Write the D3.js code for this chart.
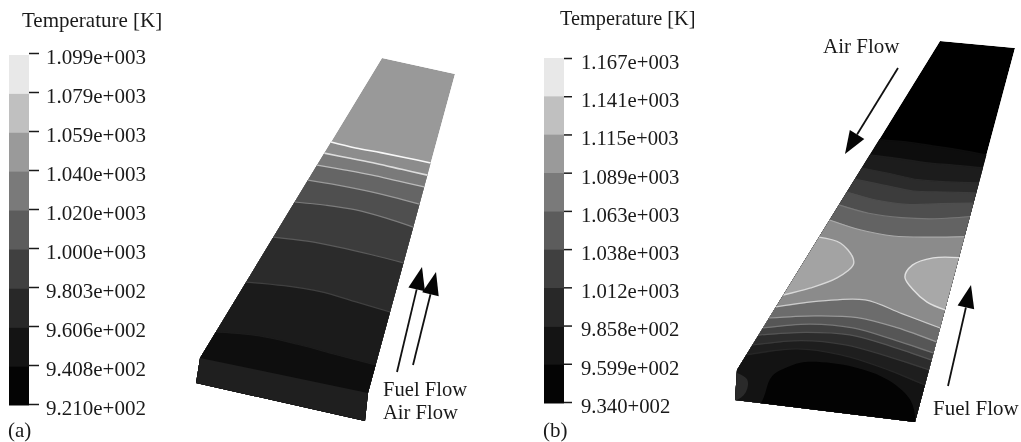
<!DOCTYPE html>
<html lang="en">
<head>
    <meta charset="UTF-8">
    <title>Temperature contours</title>
    <script src="https://cdnjs.cloudflare.com/ajax/libs/d3/7.8.5/d3.min.js"></script>
    <style>
        html, body { margin: 0; padding: 0; background: #fff; }
        svg { display: block; filter: blur(0.4px); }
        text { font-family: "Liberation Serif", serif; fill: #1a1a1a; }
    </style>
</head>
<body>
    <script>
        // Legend tick labels (the last b label really has no "e")
        var ticksA = ["1.099e+003","1.079e+003","1.059e+003","1.040e+003","1.020e+003","1.000e+003","9.803e+002","9.606e+002","9.408e+002","9.210e+002"];
        var ticksB = ["1.167e+003","1.141e+003","1.115e+003","1.089e+003","1.063e+003","1.038e+003","1.012e+003","9.858e+002","9.599e+002","9.340+002"];
        var legendShades = ["#e8e8e8","#c0c0c0","#9a9a9a","#7a7a7a","#5c5c5c","#404040","#282828","#141414","#040404"];

        // Stations across the plate width (0 = left edge, 1 = right edge)
        var across = [0, 0.25, 0.5, 0.75, 1];

        // Contours: fraction of plate length from the top end, one value per station
        var contoursA = [
            [0.280,0.282,0.280,0.279,0.279],
            [0.317,0.316,0.315,0.316,0.317],
            [0.357,0.354,0.352,0.353,0.354],
            [0.407,0.403,0.402,0.404,0.408],
            [0.480,0.470,0.465,0.470,0.480],
            [0.597,0.588,0.586,0.588,0.592],
            [0.747,0.734,0.729,0.737,0.746],
            [0.913,0.898,0.899,0.906,0.912]
        ];
        var contoursB = [
            [0.300,0.300,0.305,0.310,0.318],
            [0.347,0.350,0.355,0.355,0.356],
            [0.386,0.395,0.406,0.405,0.400],
            [0.420,0.430,0.440,0.435,0.430],
            [0.459,0.475,0.480,0.470,0.460],
            [0.498,0.515,0.520,0.515,0.500],
            [0.544,0.565,0.575,0.570,0.560],
            [0.808,0.780,0.767,0.798,0.831],
            [0.842,0.825,0.820,0.840,0.872],
            [0.872,0.850,0.851,0.875,0.905],
            [0.894,0.875,0.872,0.895,0.926],
            [0.924,0.900,0.902,0.925,0.955],
            [0.954,0.925,0.932,0.960,1.000]
        ];

        // Closed regions on plate b as [across, along]
        var hotLeftB = [[0,0.596],[0.165,0.608],[0.296,0.646],[0.325,0.668],[0.265,0.71],[0.133,0.746],[0,0.772]];
        var hotRightB = [[1,0.622],[0.827,0.629],[0.707,0.655],[0.687,0.691],[0.77,0.727],[0.878,0.759],[1,0.777]];
        var coldDomeB = [[0.2,1.2],[0.213,1.08],[0.195,1.012],[0.253,0.979],[0.33,0.961],[0.593,0.964],[0.8,0.994],[0.946,1.047],[1,1.11],[1,1.2]];
        var warmCornerB = [[-0.05,1],[0.08,1.025],[0.11,1.064],[0.08,1.09],[-0.05,1.09]];

        var width = 1021, height = 442;
        var svg = d3.select("body").append("svg").attr("width", width).attr("height", height);

        // Shades and line colours for the contour bands, top of plate first
        var bandsA = ["#999999","#8c8c8c","#7a7a7a","#656565","#4f4f4f","#3c3c3c","#2b2b2b","#1b1b1b","#0e0e0e"];
        var linesA = ["#f8f8f8","#dddddd","#bbbbbb","#999999","#7c7c7c","#5a5a5a","#404040","#1c1c1c"];
        var bandsB = ["#000000","#0d0d0d","#1c1c1c","#2b2b2b","#3c3c3c","#4e4e4e","#636363","#8b8b8b","#6c6c6c","#565656","#404040","#2c2c2c","#1e1e1e","#131313"];
        var linesB = ["#0d0d0d","#1c1c1c","#2b2b2b","#3c3c3c","#4e4e4e","#777777","#aaaaaa","#cccccc","#999999","#777777","#555555","#3a3a3a","#262626"];

        function drawLegend(x, top, bottom, tickTop, tickSize, pad, labels, fontSize) {
            var band = d3.scaleBand().domain(legendShades).range([top, bottom]);
            svg.append("g").selectAll("rect").data(legendShades).enter().append("rect")
                .attr("x", x - 20)
                .attr("width", 20)
                .attr("y", function(d){ return band(d); })
                .attr("height", band.bandwidth() + 0.5)
                .attr("fill", function(d){ return d; });
            var scale = d3.scalePoint().domain(labels).range([tickTop, bottom - 1]);
            var axis = svg.append("g").attr("transform", "translate(" + x + ",0)")
                .call(d3.axisRight(scale).tickSize(tickSize).tickPadding(pad));
            axis.select(".domain").remove();
            axis.selectAll("line").attr("stroke", "#1a1a1a").attr("stroke-width", 1.5);
            axis.selectAll("text")
                .attr("dy", "0.5em")
                .style("font-family", '"Liberation Serif", serif')
                .style("font-size", fontSize + "px")
                .attr("fill", "#1a1a1a");
        }

        // Maps [across, along] on the top face of a plate to the page
        function plateProjection(c) {
            var leftEdge = d3.scaleLinear().domain([0,1]).range([c.tl, c.bl]);
            var rightEdge = d3.scaleLinear().domain([0,1]).range([c.tr, c.br]);
            return function(s, t) {
                return d3.scaleLinear().domain([0,1]).range([leftEdge(t), rightEdge(t)])(s);
            };
        }

        function drawPlate(id, c, outline, contours, bands, lines) {
            var project = plateProjection(c);
            var curve = d3.line().curve(d3.curveCatmullRom);
            svg.append("clipPath").attr("id", id).append("polygon")
                .attr("points", outline.join(" "));
            var g = svg.append("g").attr("clip-path", "url(#" + id + ")");
            g.append("polygon").attr("points", outline.join(" ")).attr("fill", bands[0]);
            contours.forEach(function(row, i) {
                var pts = row.map(function(t, j){ return project(across[j], t); });
                // run past both edges and close under the plate, the clip trims it
                var first = project(-0.2, row[0]), last = project(1.2, row[row.length-1]);
                var area = curve([first].concat(pts, [last])) +
                    "L" + project(1.5, 1.6) + "L" + project(-0.5, 1.6) + "Z";
                g.append("path").attr("d", area).attr("fill", bands[i+1]);
            });
            contours.forEach(function(row, i) {
                var pts = row.map(function(t, j){ return project(across[j], t); });
                g.append("path").attr("d", curve(pts))
                    .attr("fill", "none")
                    .attr("stroke", lines[i])
                    .attr("stroke-width", i < 2 ? 1.6 : 1.2);
            });
            return { g: g, project: project };
        }

        function drawRegion(plate, pts, fill, stroke) {
            var d = pts.map(function(p){ return plate.project(p[0], p[1]); });
            plate.g.append("path")
                .attr("d", d3.line().curve(d3.curveCatmullRom)(d))
                .attr("fill", fill)
                .attr("stroke", stroke || "none")
                .attr("stroke-width", 1.4);
        }

        function drawArrow(from, to) {
            var dx = to[0]-from[0], dy = to[1]-from[1], len = Math.sqrt(dx*dx+dy*dy);
            var ux = dx/len, uy = dy/len, headLen = 23, headHalf = 8.5;
            var bx = to[0]-ux*headLen, by = to[1]-uy*headLen;
            svg.append("line")
                .attr("x1", from[0]).attr("y1", from[1]).attr("x2", bx).attr("y2", by)
                .attr("stroke", "#111").attr("stroke-width", 1.8);
            svg.append("polygon")
                .attr("points", [to, [bx-uy*headHalf, by+ux*headHalf], [bx+uy*headHalf, by-ux*headHalf]].join(" "))
                .attr("fill", "#050505");
        }

        function label(x, y, s, fontSize) {
            svg.append("text").attr("x", x).attr("y", y)
                .style("font-size", (fontSize || 21) + "px").text(s);
        }

        // Panel a
        drawLegend(29, 55, 405, 53, 10, 7, ticksA, 21);
        label(22, 27, "Temperature [K]");
        label(8, 437, "(a)");
        var cornersA = { tl:[382,58], tr:[455,74], br:[368,393], bl:[200,358] };
        var outlineA = [cornersA.tl, cornersA.tr, cornersA.br, [365,421], [196,383], cornersA.bl];
        var plateA = drawPlate("plate-a", cornersA, outlineA, contoursA, bandsA, linesA);
        plateA.g.append("polygon")
            .attr("points", [cornersA.bl, cornersA.br, [365,421], [196,383]].join(" "))
            .attr("fill", "#1f1f1f");
        drawArrow([397,372], [422,267]);
        drawArrow([413,365], [436,272]);
        label(383, 395.5, "Fuel Flow", 20.6);
        label(383, 419.3, "Air Flow", 20.6);

        // Panel b
        drawLegend(564, 58, 403, 58, 8, 9, ticksB, 20.7);
        label(560, 25, "Temperature [K]", 20.3);
        label(543, 437, "(b)");
        var cornersB = { tl:[940,41], tr:[1015,48], br:[925,385], bl:[737,370] };
        var outlineB = [cornersB.tl, cornersB.tr, [915,422], [735,400], cornersB.bl];
        var plateB = drawPlate("plate-b", cornersB, outlineB, contoursB, bandsB, linesB);
        drawRegion(plateB, hotLeftB, "#a3a3a3", "#d8d8d8");
        drawRegion(plateB, hotRightB, "#a8a8a8", "#e0e0e0");
        drawRegion(plateB, warmCornerB, "#2a2a2a");
        drawRegion(plateB, coldDomeB, "#030303");
        drawArrow([898,68], [845,154]);
        drawArrow([948,386], [971,285]);
        label(823, 53, "Air Flow");
        label(933, 415, "Fuel Flow");
    </script>
</body>
</html>
